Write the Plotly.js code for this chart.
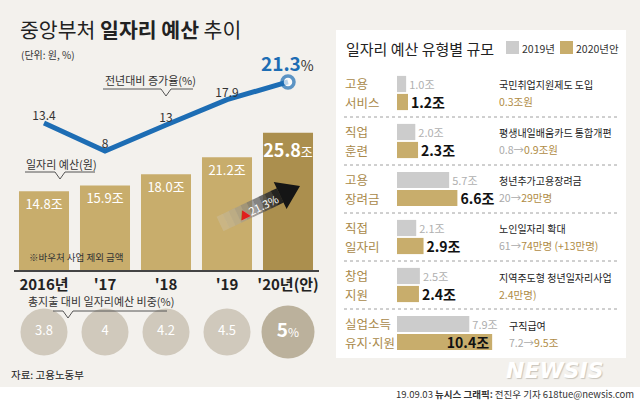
<!DOCTYPE html>
<html>
<head>
<meta charset="utf-8">
<script src="https://cdn.plot.ly/plotly-3.0.1.min.js"></script>
<style>html,body{margin:0;padding:0;background:#fff;}#chart{width:640px;height:402px;}</style>
</head>
<body>
<div id="chart"></div>
<script>
// ---------- data ----------
const years = ["2016년", "'17", "'18", "'19", "'20년(안)"];
const budget = [14.8, 15.9, 18.0, 21.2, 25.8];          // 조원
const growth = [13.4, 8, 13, 17.9, 21.3];               // 전년대비 증가율 %
const share = [3.8, 4, 4.2, 4.5, 5];                    // 총지출 대비 비중 %

const types = ["고용서비스", "직업훈련", "고용장려금", "직접일자리", "창업지원", "실업소득유지·지원"];
const typeLine1 = ["고용", "직업", "고용", "직접", "창업", "실업소득"];
const typeLine2 = ["서비스", "훈련", "장려금", "일자리", "지원", '유지<span style="font-family:DejaVu Sans">·</span>지원'];
const v2019 = [1.0, 2.0, 5.7, 2.1, 2.5, 7.9];
const v2020 = [1.2, 2.3, 6.6, 2.9, 2.4, 10.4];
const descTitle = ["국민취업지원제도 도입", "평생내일배움카드 통합개편", "청년추가고용장려금", "노인일자리 확대", "지역주도형 청년일자리사업", "구직급여"];
const descFrom = ["", "0.8→", "20→", "61→", "", "7.2→"];
const descTo = ["0.3조원", "0.9조원", "29만명", "74만명 (+13만명)", "2.4만명)", "9.5조"];

// ---------- helpers ----------
const W = 640, H = 402;
const px = x => x / W;
const py = y => 1 - y / H;
const FONT = "Noto Sans CJK KR, sans-serif";
const TAN = "#c8ad6c", TAN_DARK = "#ab8f4e", LABEL_TAN = "#a9894a", BLUE = "#1d6db4";

const shapes = [];
const annotations = [];

// backgrounds
shapes.push({type: "rect", xref: "paper", yref: "paper", x0: 0, x1: 1, y0: py(387), y1: 1,
  fillcolor: "#f3f1ed", line: {width: 0}, layer: "below"});
shapes.push({type: "rect", xref: "paper", yref: "paper", x0: px(336), x1: px(626), y0: py(358), y1: py(30),
  fillcolor: "#ffffff", line: {width: 0}, layer: "below"});

// pointer brackets
function bracket(x0, x1, xv, y) {
  return {type: "path", xref: "paper", yref: "paper", layer: "above",
    path: `M${px(x0)},${py(y)} L${px(xv - 5)},${py(y)} L${px(xv)},${py(y + 7)} L${px(xv + 5)},${py(y)} L${px(x1)},${py(y)}`,
    line: {color: "#555", width: 1}};
}
shapes.push(bracket(103, 193, 166, 89));
shapes.push(bracket(25, 95, 60, 172));
shapes.push(bracket(53, 167, 68, 311));

// arrow with gradient
(function () {
  const S = [220, 224], T = [300, 186];
  const len = Math.hypot(T[0] - S[0], T[1] - S[1]);
  const u = [(T[0] - S[0]) / len, (T[1] - S[1]) / len];
  const n = [-u[1], u[0]];
  const hl = 22, hh = 15, sh = 8;
  const B = [T[0] - hl * u[0], T[1] - hl * u[1]];
  const N = 10;
  const pt = (p, k) => [p[0] + k * n[0], p[1] + k * n[1]];
  const str = p => `${px(p[0])},${py(p[1])}`;
  for (let k = 0; k < N; k++) {
    const a = [S[0] + (B[0] - S[0]) * k / N, S[1] + (B[1] - S[1]) * k / N];
    const b = [S[0] + (B[0] - S[0]) * (k + 1.03) / N, S[1] + (B[1] - S[1]) * (k + 1.03) / N];
    const t = (k + 0.5) / N;
    const c = Math.round(220 - t * 200);
    shapes.push({type: "path", xref: "paper", yref: "paper", layer: "above",
      path: `M${str(pt(a, sh))} L${str(pt(b, sh))} L${str(pt(b, -sh))} L${str(pt(a, -sh))} Z`,
      fillcolor: `rgb(${c},${c},${c})`, opacity: 0.2 + 0.8 * t, line: {width: 0}});
  }
  shapes.push({type: "path", xref: "paper", yref: "paper", layer: "above",
    path: `M${str(pt(B, sh))} L${str(pt(B, hh))} L${str(T)} L${str(pt(B, -hh))} L${str(pt(B, -sh))} Z`,
    fillcolor: "#151515", line: {width: 0}});
})();

// right-panel separators
for (let i = 0; i < types.length - 1; i++) {
  shapes.push({type: "line", xref: "paper", yref: "y2", x0: px(344), x1: px(618), y0: i + 0.5, y1: i + 0.5,
    line: {color: "#a0a0a0", width: 1, dash: "dot"}});
}
// legend squares
shapes.push({type: "rect", xref: "paper", yref: "paper", x0: px(506), x1: px(519), y0: py(54), y1: py(41),
  fillcolor: "#cccccc", line: {width: 0}});
shapes.push({type: "rect", xref: "paper", yref: "paper", x0: px(560), x1: px(573), y0: py(54), y1: py(41),
  fillcolor: TAN, line: {width: 0}});

// ---------- annotations ----------
function note(x, y, text, size, color, opts) {
  annotations.push(Object.assign({xref: "paper", yref: "paper", x: px(x), y: py(y), text: text,
    showarrow: false, xanchor: "left", yanchor: "middle",
    font: {family: FONT, size: size, color: color}}, opts || {}));
}
note(18, 29, "중앙부처 <b>일자리 예산</b> 추이", 20.5, "#222");
note(19, 55, "(단위: 원, %)", 10, "#333");
note(103, 80, "전년대비 증가율(%)", 11, "#333");
note(24, 164, "일자리 예산(원)", 11, "#333");
note(27, 257, "※바우처 사업 제외 금액", 9.5, "#333");
note(26, 301, "총지출 대비 일자리예산 비중(%)", 11, "#333");
note(9, 374, "자료: 고용노동부", 10.5, "#222");
note(258, 207, '<span style="color:#e0201b">▲</span>21.3%', 11, "#ffffff",
  {xanchor: "center", textangle: -26});
annotations.push({xref: "x", yref: "y3", x: years[4], y: growth[4], yshift: 19, xshift: -1,
  showarrow: false, xanchor: "center", yanchor: "middle",
  text: '<b>21.3</b><span style="font-size:14px;color:#333">%</span>',
  font: {family: FONT, size: 19, color: BLUE}});

// right panel titles / legend
note(344, 48, "일자리 예산 유형별 규모", 15, "#222");
note(520, 48, "2019년", 10.5, "#333");
note(574, 48, "2020년안", 10.5, "#333");

types.forEach((t, i) => {
  annotations.push({xref: "paper", yref: "y2", x: px(344), y: t, yshift: 9.5, text: typeLine1[i], showarrow: false,
    xanchor: "left", yanchor: "middle", borderpad: 0, font: {family: FONT, size: 12.5, color: LABEL_TAN}});
  annotations.push({xref: "paper", yref: "y2", x: px(344), y: t, yshift: -9.5, text: typeLine2[i], showarrow: false,
    xanchor: "left", yanchor: "middle", borderpad: 0, font: {family: FONT, size: 12.5, color: LABEL_TAN}});
  const dx = i === types.length - 1 ? 508 : 498;
  annotations.push({xref: "paper", yref: "y2", x: px(dx), y: t, yshift: 8, text: descTitle[i], showarrow: false,
    xanchor: "left", yanchor: "middle", borderpad: 0, font: {family: FONT, size: 10, color: "#222"}});
  annotations.push({xref: "paper", yref: "y2", x: px(dx), y: t, yshift: -9,
    text: (descFrom[i] ? `<span style="color:#aaa">${descFrom[i]}</span>` : "") + descTo[i],
    showarrow: false, xanchor: "left", yanchor: "middle", borderpad: 0,
    font: {family: FONT, size: 10.5, color: "#b08c45"}});
});

// watermark & credit
note(555, 370, "<b><i>NEWSIS</i></b>", 22, "#ffffff",
  {xanchor: "center", font: {family: "DejaVu Sans, sans-serif", size: 22, color: "#ffffff", shadow: "1px 1px 1px #c8c4bc"}});
note(636, 394, "19.09.03 <b>뉴시스 그래픽:</b> 전진우 기자 618tue@newsis.com", 9.5, "#333", {xanchor: "right"});

// ---------- traces ----------
const barText = budget.map((v, i) => i === budget.length - 1
  ? `<b>${v.toFixed(1)}</b><span style="font-size:13px">조</span>` : v.toFixed(1) + "조");

const traces = [
  {type: "bar", x: years, y: budget, xaxis: "x", yaxis: "y", width: 0.82,
    marker: {color: budget.map((v, i) => i === budget.length - 1 ? TAN_DARK : TAN)},
    text: barText, textposition: "inside", insidetextanchor: "end", textangle: 0, constraintext: "none",
    insidetextfont: {family: FONT, size: budget.map((v, i) => i === budget.length - 1 ? 18 : 13), color: "#fff"},
    hoverinfo: "skip", showlegend: false},
  {type: "scatter", mode: "lines+markers+text", x: years, y: growth, xaxis: "x", yaxis: "y3",
    line: {color: BLUE, width: 5},
    marker: {size: growth.map((v, i) => i === growth.length - 1 ? 12 : 0), color: "#fff",
      line: {color: BLUE, width: growth.map((v, i) => i === growth.length - 1 ? 3.5 : 0)}},
    text: growth.map((v, i) => i === growth.length - 1 ? "" : String(v)),
    textposition: "top center", textfont: {family: FONT, size: 12, color: "#333"},
    cliponaxis: false, hoverinfo: "skip", showlegend: false},
  {type: "scatter", mode: "markers+text", x: years, y: share.map(() => 0), xaxis: "x", yaxis: "y4",
    marker: {size: share.map((v, i) => i === share.length - 1 ? 53 : 47),
      color: share.map((v, i) => i === share.length - 1 ? "#a29579" : "#c1b8a6"), line: {width: 0}},
    text: share.map((v, i) => i === share.length - 1
      ? `<b>${v}</b><span style="font-size:12px">%</span>` : String(v)),
    textposition: "middle center",
    textfont: {family: FONT, size: share.map((v, i) => i === share.length - 1 ? 19 : 13), color: "#fff"},
    cliponaxis: false, hoverinfo: "skip", showlegend: false},
  {type: "bar", orientation: "h", name: "2019년", y: types, x: v2019, xaxis: "x2", yaxis: "y2",
    marker: {color: "#cccccc"}, text: v2019.map(v => v.toFixed(1) + "조"), textposition: "outside",
    constraintext: "none", cliponaxis: false,
    outsidetextfont: {family: FONT, size: 11, color: "#b0b0b0"}, hoverinfo: "skip", showlegend: false},
  {type: "bar", orientation: "h", name: "2020년안", y: types, x: v2020, xaxis: "x2", yaxis: "y2",
    marker: {color: TAN}, text: v2020.map(v => `<b>${v.toFixed(1)}조</b>`),
    textposition: v2020.map(v => v >= 10 ? "inside" : "outside"), insidetextanchor: "end",
    constraintext: "none", cliponaxis: false,
    outsidetextfont: {family: FONT, size: 14, color: "#111"},
    insidetextfont: {family: FONT, size: 14, color: "#111"}, hoverinfo: "skip", showlegend: false}
];

const hidden = {showgrid: false, zeroline: false, showticklabels: false, showline: false, ticks: ""};

const layout = {
  width: W, height: H, margin: {l: 0, r: 0, t: 0, b: 0},
  paper_bgcolor: "#ffffff", plot_bgcolor: "rgba(0,0,0,0)",
  font: {family: FONT, color: "#222"},
  barmode: "group", bargap: 0.25, bargroupgap: 0.1,
  showlegend: false,
  xaxis: {domain: [px(13.5), px(318.5)], anchor: "y", type: "category", range: [-0.5, years.length - 0.5],
    showgrid: false, zeroline: false,
    showline: true, linecolor: "#444", linewidth: 2, ticks: "",
    tickfont: {family: FONT, size: 15, color: "#222", weight: "bold"}, fixedrange: true},
  yaxis: Object.assign({domain: [py(270), py(60)], range: [0, 210 / 5.32], anchor: "x"}, hidden),
  yaxis3: Object.assign({overlaying: "y", anchor: "x", range: [-(270 - 192.5) / 5.19, (192.5 - 60) / 5.19]}, hidden),
  yaxis4: Object.assign({domain: [py(354), py(310)], anchor: "x", range: [-1, 1]}, hidden),
  xaxis2: Object.assign({domain: [px(397), px(626)], anchor: "y2", range: [0, 229 / 9.15]}, hidden),
  yaxis2: Object.assign({domain: [py(357), py(69)], anchor: "x2", type: "category", autorange: "reversed"}, hidden),
  shapes: shapes,
  annotations: annotations
};

Plotly.newPlot("chart", traces, layout, {staticPlot: true, displayModeBar: false});
</script>
</body>
</html>
